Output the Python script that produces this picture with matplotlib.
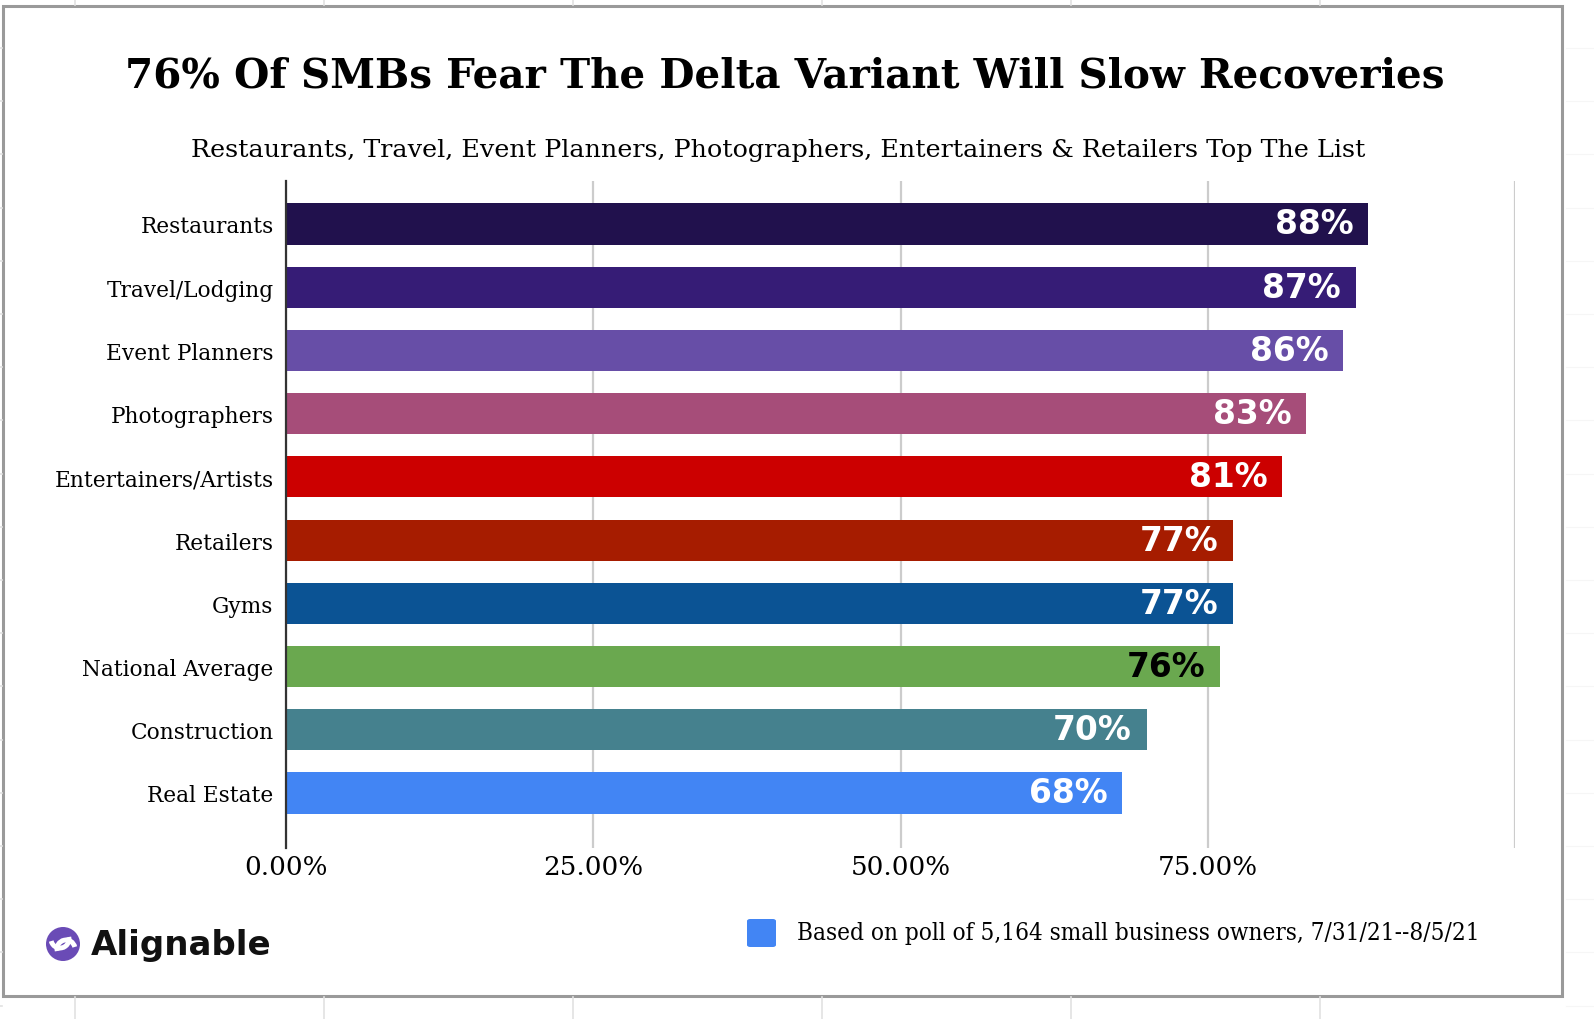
import matplotlib
matplotlib.use("Agg")
import matplotlib.pyplot as plt
from matplotlib.patches import Rectangle, FancyBboxPatch, Ellipse, Arc
from matplotlib.lines import Line2D

categories = ["Restaurants", "Travel/Lodging", "Event Planners", "Photographers",
              "Entertainers/Artists", "Retailers", "Gyms", "National Average",
              "Construction", "Real Estate"]
values = [88, 87, 86, 83, 81, 77, 77, 76, 70, 68]
colors = ["#21114d", "#361c76", "#674ea7", "#a64d79", "#cc0000", "#a61c00",
          "#0b5394", "#6aa84f", "#45818e", "#4285f4"]
label_colors = ["white"] * 7 + ["black"] + ["white"] * 2
xticks = [0, 25, 50, 75, 100]
xtick_labels = ["0.00%", "25.00%", "50.00%", "75.00%", ""]
title = "76% Of SMBs Fear The Delta Variant Will Slow Recoveries"
subtitle = "Restaurants, Travel, Event Planners, Photographers, Entertainers & Retailers Top The List"
legend_text = "Based on poll of 5,164 small business owners, 7/31/21--8/5/21"

W, H = 1594, 1020
fig = plt.figure(figsize=(W / 100, H / 100), dpi=100)
fig.patch.set_facecolor("white")

def fx(px):
    return px / W

def fy(py):
    return 1 - py / H

# spreadsheet backdrop lines outside the frame
for x in [75, 324, 573, 822, 1071, 1320]:
    fig.add_artist(Line2D([fx(x), fx(x)], [fy(0), fy(6)], color="#e2e2e2", lw=1.2))
    fig.add_artist(Line2D([fx(x), fx(x)], [fy(998), fy(1020)], color="#e2e2e2", lw=1.2))
y = 49
while y < 1020:
    fig.add_artist(Line2D([fx(0), fx(2)], [fy(y), fy(y)], color="#e2e2e2", lw=1.2))
    fig.add_artist(Line2D([fx(1566), fx(1594)], [fy(y), fy(y)], color="#f6f6f6", lw=0.8))
    y += 53.2

# frame
fig.add_artist(Rectangle((fx(3), fy(997)), fx(1562) - fx(3), fy(7) - fy(997),
                         fill=False, edgecolor="#9a9a9a", lw=2.2))

ax = fig.add_axes([fx(286), fy(849), fx(1515.5) - fx(286), fy(182) - fy(849)])
ypos = list(range(len(categories)))
ax.barh(ypos, values, height=0.65, color=colors, zorder=3)
ax.set_xlim(0, 100)
ax.set_ylim(9.87, -0.68)
ax.set_yticks(ypos)
ax.set_yticklabels(categories, fontsize=15.6, family="DejaVu Serif")
ax.set_xticks(xticks)
ax.set_xticklabels(xtick_labels, fontsize=18.8, family="DejaVu Serif")
ax.tick_params(axis="both", length=0)
ax.tick_params(axis="y", pad=9)
ax.tick_params(axis="x", pad=4)
ax.grid(axis="x", color="#cccccc", lw=1.6, zorder=0)
for s in ["top", "right", "bottom"]:
    ax.spines[s].set_visible(False)
ax.spines["left"].set_color("#333333")
ax.spines["left"].set_linewidth(1.6)
ax.spines["left"].set_zorder(4)

for yp, v, lc in zip(ypos, values, label_colors):
    ax.text(v - 1.2, yp, f"{v}%", ha="right", va="center", color=lc,
            fontsize=23.7, fontweight="bold", family="DejaVu Sans", zorder=5)

fig.text(fx(785), fy(77), title, ha="center", va="center", fontsize=29.2,
         fontweight="bold", family="DejaVu Serif")
fig.text(fx(778), fy(150), subtitle, ha="center", va="center", fontsize=18.3,
         family="DejaVu Serif")

# legend
fig.add_artist(FancyBboxPatch((fx(747), fy(948)), fx(776) - fx(747), fy(920) - fy(948),
                              boxstyle="round,pad=0,rounding_size=0.002",
                              facecolor="#4285f4", edgecolor="none"))
fig.text(fx(797), fy(934), legend_text, ha="left", va="center", fontsize=17.4,
         family="DejaVu Serif", fontstretch="condensed")

# logo
ic_x, ic_y, r = 63, 945, 17
fig.add_artist(Ellipse((fx(ic_x), fy(ic_y)), width=2 * r / W, height=2 * r / H,
                       facecolor="#6a4bb6", edgecolor="none", transform=fig.transFigure))
fig.add_artist(Arc((fx(ic_x - 3), fy(ic_y - 5)), width=18 / W, height=18 / H,
                   theta1=200, theta2=20, color="white", lw=3.5, transform=fig.transFigure))
fig.add_artist(Arc((fx(ic_x + 3), fy(ic_y + 5)), width=18 / W, height=18 / H,
                   theta1=20, theta2=200, color="white", lw=3.5, transform=fig.transFigure))
fig.text(fx(91), fy(946), "Alignable", ha="left", va="center", fontsize=24.5,
         fontweight="bold", family="DejaVu Sans", color="#111111")

fig.savefig("out.png", dpi=100, facecolor="white")
